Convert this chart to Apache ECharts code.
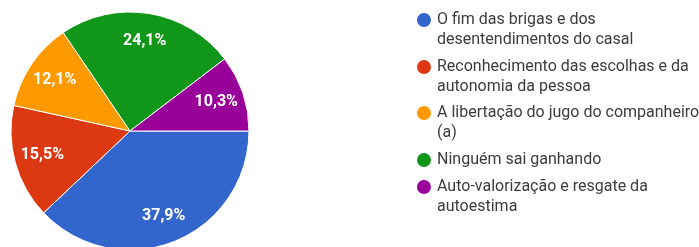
<!DOCTYPE html>
<html>
<head>
<meta charset="utf-8">
<script src="https://cdn.jsdelivr.net/npm/echarts@6/dist/echarts.min.js"></script>
<style>
  html, body { margin: 0; padding: 0; background: #fff; }
  #main { width: 699px; height: 247px; }
</style>
</head>
<body>
<div id="main"></div>
<script>
var chart = echarts.init(document.getElementById('main'));

// answers (counts out of 58 responses)
var names = [
    'O fim das brigas e dos desentendimentos do casal',
    'Reconhecimento das escolhas e da autonomia da pessoa',
    'A libertação do jugo do companheiro (a)',
    'Ninguém sai ganhando',
    'Auto-valorização e resgate da autoestima'
];
var wrapped = [
    'O fim das brigas e dos\ndesentendimentos do casal',
    'Reconhecimento das escolhas e da\nautonomia da pessoa',
    'A libertação do jugo do companheiro\n(a)',
    'Ninguém sai ganhando',
    'Auto-valorização e resgate da\nautoestima'
];
var counts = [22, 9, 7, 14, 6];
var colors = ['#3366cc', '#dc3912', '#ff9900', '#109618', '#990099'];

var total = counts.reduce(function (a, b) { return a + b; }, 0);
var data = names.map(function (n, i) {
    return { name: n, value: counts[i] };
});

// one legend per entry; a blank first line keeps the dot on the first text line
var iconY = [20, 67, 113, 160, 187];
var lh = 20;
var legends = names.map(function (n, i) {
    var twoLines = wrapped[i].indexOf('\n') >= 0;
    return {
        orient: 'vertical',
        left: 415,
        top: twoLines ? iconY[i] - lh * 1.5 : iconY[i] - lh / 2,
        padding: 0,
        icon: 'circle',
        itemWidth: 16,
        itemHeight: 16,
        itemGap: 0,
        selectedMode: false,
        data: [n],
        formatter: function () { return twoLines ? '\n' + wrapped[i] : wrapped[i]; },
        textStyle: {
            fontFamily: 'Roboto',
            fontSize: 16,
            color: '#3c3c3c',
            lineHeight: lh
        }
    };
});

var option = {
    color: colors,
    legend: legends,
    series: [{
        type: 'pie',
        center: [130, 131],
        radius: [0, 119],
        startAngle: 0,
        clockwise: true,
        itemStyle: { borderColor: '#fff', borderWidth: 1 },
        label: { show: false },
        labelLine: { show: false },
        data: data
    }, {
        // transparent ring just to put the labels further out
        type: 'pie',
        center: [130, 131],
        radius: [57, 119],
        startAngle: 0,
        clockwise: true,
        silent: true,
        itemStyle: { color: 'rgba(0,0,0,0)' },
        label: {
            show: true,
            position: 'inside',
            color: '#fff',
            fontFamily: 'Roboto',
            fontWeight: 'bold',
            fontSize: 16,
            formatter: function (p) {
                return (p.value / total * 100).toFixed(1).replace('.', ',') + '%';
            }
        },
        labelLine: { show: false },
        data: data
    }]
};

chart.setOption(option);
</script>
</body>
</html>
